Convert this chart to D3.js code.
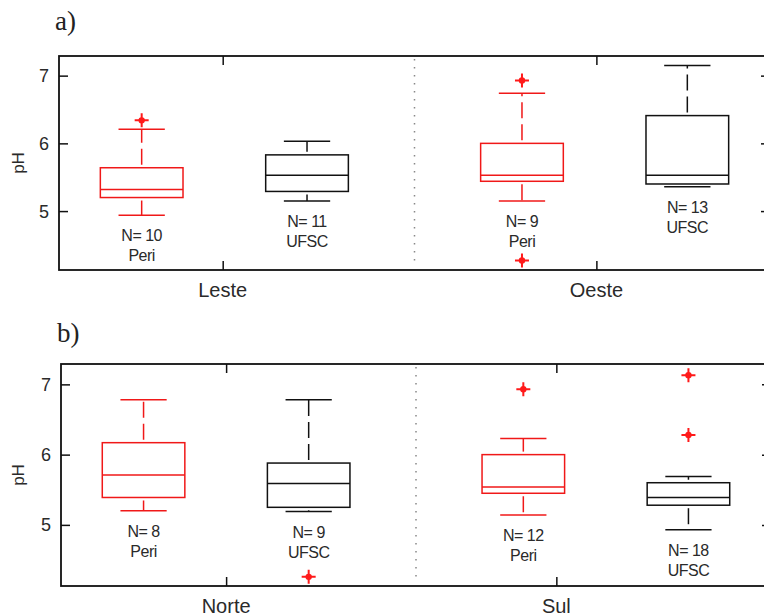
<!DOCTYPE html>
<html>
<head>
<meta charset="utf-8">
<script src="https://cdn.jsdelivr.net/npm/d3@7"></script>
<style>
  body { margin: 0; background: #fff; }
  svg { display: block; }
  .txt { font-family: "Liberation Sans", Arial, sans-serif; fill: #2a2a2a; }
  .ttl { font-family: "Liberation Serif", "Times New Roman", serif; fill: #222; }
</style>
</head>
<body>
<div id="chart"></div>
<script>
// values, panel a) then panel b)
const panelTitles = ['a)', 'b)'];
const panelGroups = [['Leste', 'Oeste'], ['Norte', 'Sul']];
const groupTickPos = [[1.49, 3.75], [1.5, 3.5]];
const series = ['Peri', 'UFSC', 'Peri', 'UFSC'];
const boxPos = [1, 2, 3.3, 4.3];
const counts = [[10, 11, 9, 13], [8, 9, 12, 18]];
const whiskerLow = [[4.94, 5.15, 5.15, 5.36], [5.20, 5.19, 5.14, 4.93]];
const q1 = [[5.20, 5.29, 5.44, 5.40], [5.39, 5.25, 5.45, 5.28]];
const median = [[5.32, 5.53, 5.53, 5.53], [5.71, 5.59, 5.54, 5.39]];
const q3 = [[5.64, 5.83, 6.00, 6.41], [6.17, 5.88, 6.00, 5.60]];
const whiskerHigh = [[6.21, 6.03, 6.74, 7.15], [6.78, 6.78, 6.23, 5.69]];
const outliers = [[[6.34], [], [6.93, 4.27], []], [[], [4.26], [6.93], [7.13, 6.28]]];
const yTicks = [5, 6, 7];

const W = 764, H = 616;
const colors = { Peri: '#f01818', UFSC: '#111' };
const boxW = 0.5, capW = 0.28, tickLen = 9;

// panel frames
const frames = [
  { left: 59, right: 770, top: 56, bottom: 270, titleY: 30 },
  { left: 61, right: 771, top: 364, bottom: 586, titleY: 342 }
];

const svg = d3.select('#chart').append('svg')
  .attr('width', W).attr('height', H);

frames.forEach(function (f, p) {
  const x = d3.scaleLinear().domain([0.5, 4.8]).range([f.left, f.right]);
  const y = d3.scaleLinear().domain([4.13, 7.29]).range([f.bottom, f.top]);
  const g = svg.append('g');

  g.append('text').attr('class', 'ttl')
    .attr('x', f.left - 4).attr('y', f.titleY)
    .attr('font-size', 27).text(panelTitles[p]);

  // dotted separator between the two groups
  const sep = (boxPos[1] + boxPos[2]) / 2;
  g.append('line')
    .attr('x1', x(sep)).attr('x2', x(sep))
    .attr('y1', f.top + 3).attr('y2', f.bottom - 3)
    .attr('stroke', '#888').attr('stroke-width', 1.5)
    .attr('stroke-dasharray', '1.5,6.5');

  // y axis ticks (left and right, inward)
  const yAxisL = d3.axisRight(y).tickValues(yTicks).tickSize(tickLen).tickFormat('');
  const yAxisR = d3.axisLeft(y).tickValues(yTicks).tickSize(tickLen).tickFormat('');
  g.append('g').attr('transform', `translate(${f.left},0)`).call(yAxisL);
  g.append('g').attr('transform', `translate(${f.right},0)`).call(yAxisR);
  const xAxisT = d3.axisBottom(x).tickValues(groupTickPos[p]).tickSize(tickLen).tickFormat('');
  const xAxisB = d3.axisTop(x).tickValues(groupTickPos[p]).tickSize(tickLen).tickFormat('');
  g.append('g').attr('transform', `translate(0,${f.top})`).call(xAxisT);
  g.append('g').attr('transform', `translate(0,${f.bottom})`).call(xAxisB);
  g.selectAll('.domain').remove();
  g.selectAll('.tick line').attr('stroke', '#111').attr('stroke-width', 1.5);

  // tick labels
  yTicks.forEach(function (t) {
    g.append('text').attr('class', 'txt')
      .attr('x', f.left - 10).attr('y', y(t)).attr('dy', '0.36em')
      .attr('text-anchor', 'end').attr('font-size', 18).text(t);
  });
  groupTickPos[p].forEach(function (t, i) {
    g.append('text').attr('class', 'txt')
      .attr('x', x(t)).attr('y', f.bottom + 27)
      .attr('text-anchor', 'middle').attr('font-size', 20).text(panelGroups[p][i]);
  });
  g.append('text').attr('class', 'txt')
    .attr('transform', `translate(24,${(f.top + f.bottom) / 2}) rotate(-90)`)
    .attr('text-anchor', 'middle').attr('font-size', 17).text('pH');

  // boxes
  boxPos.forEach(function (pos, i) {
    const c = colors[series[i]];
    const bx = g.append('g').attr('stroke', c).attr('stroke-width', 1.5).attr('fill', 'none');
    const x0 = x(pos - boxW / 2), x1 = x(pos + boxW / 2);
    const cx = x(pos);
    bx.append('rect')
      .attr('x', x0).attr('y', y(q3[p][i]))
      .attr('width', x1 - x0).attr('height', y(q1[p][i]) - y(q3[p][i]));
    bx.append('line').attr('x1', x0).attr('x2', x1)
      .attr('y1', y(median[p][i])).attr('y2', y(median[p][i]));
    // whiskers, dashed, from box edge out to the cap
    [[q3[p][i], whiskerHigh[p][i]], [q1[p][i], whiskerLow[p][i]]].forEach(function (w) {
      bx.append('line').attr('x1', cx).attr('x2', cx)
        .attr('y1', y(w[0])).attr('y2', y(w[1]))
        .attr('stroke-dasharray', '16,6').attr('stroke-dashoffset', 19);
      bx.append('line')
        .attr('x1', x(pos - capW / 2)).attr('x2', x(pos + capW / 2))
        .attr('y1', y(w[1])).attr('y2', y(w[1]));
    });
    // outliers
    outliers[p][i].forEach(function (o) {
      const og = g.append('g').attr('transform', `translate(${cx},${y(o)})`);
      og.append('path').attr('d', 'M-7,0H7M0,-7V7')
        .attr('stroke', '#ff1a1a').attr('stroke-width', 2);
      og.append('circle').attr('r', 3.2).attr('fill', '#ff1a1a');
    });
    // labels under the lower whisker
    const ly = y(whiskerLow[p][i]) + 26;
    g.append('text').attr('class', 'txt')
      .attr('x', cx).attr('y', ly).attr('text-anchor', 'middle')
      .attr('font-size', 16).attr('letter-spacing', -0.5).text('N= ' + counts[p][i]);
    g.append('text').attr('class', 'txt')
      .attr('x', cx).attr('y', ly + 20).attr('text-anchor', 'middle')
      .attr('font-size', 16).attr('letter-spacing', -0.5).text(series[i]);
  });

  // frame
  g.append('rect')
    .attr('x', f.left).attr('y', f.top)
    .attr('width', f.right - f.left).attr('height', f.bottom - f.top)
    .attr('fill', 'none').attr('stroke', '#111').attr('stroke-width', 1.8);
});
</script>
</body>
</html>
